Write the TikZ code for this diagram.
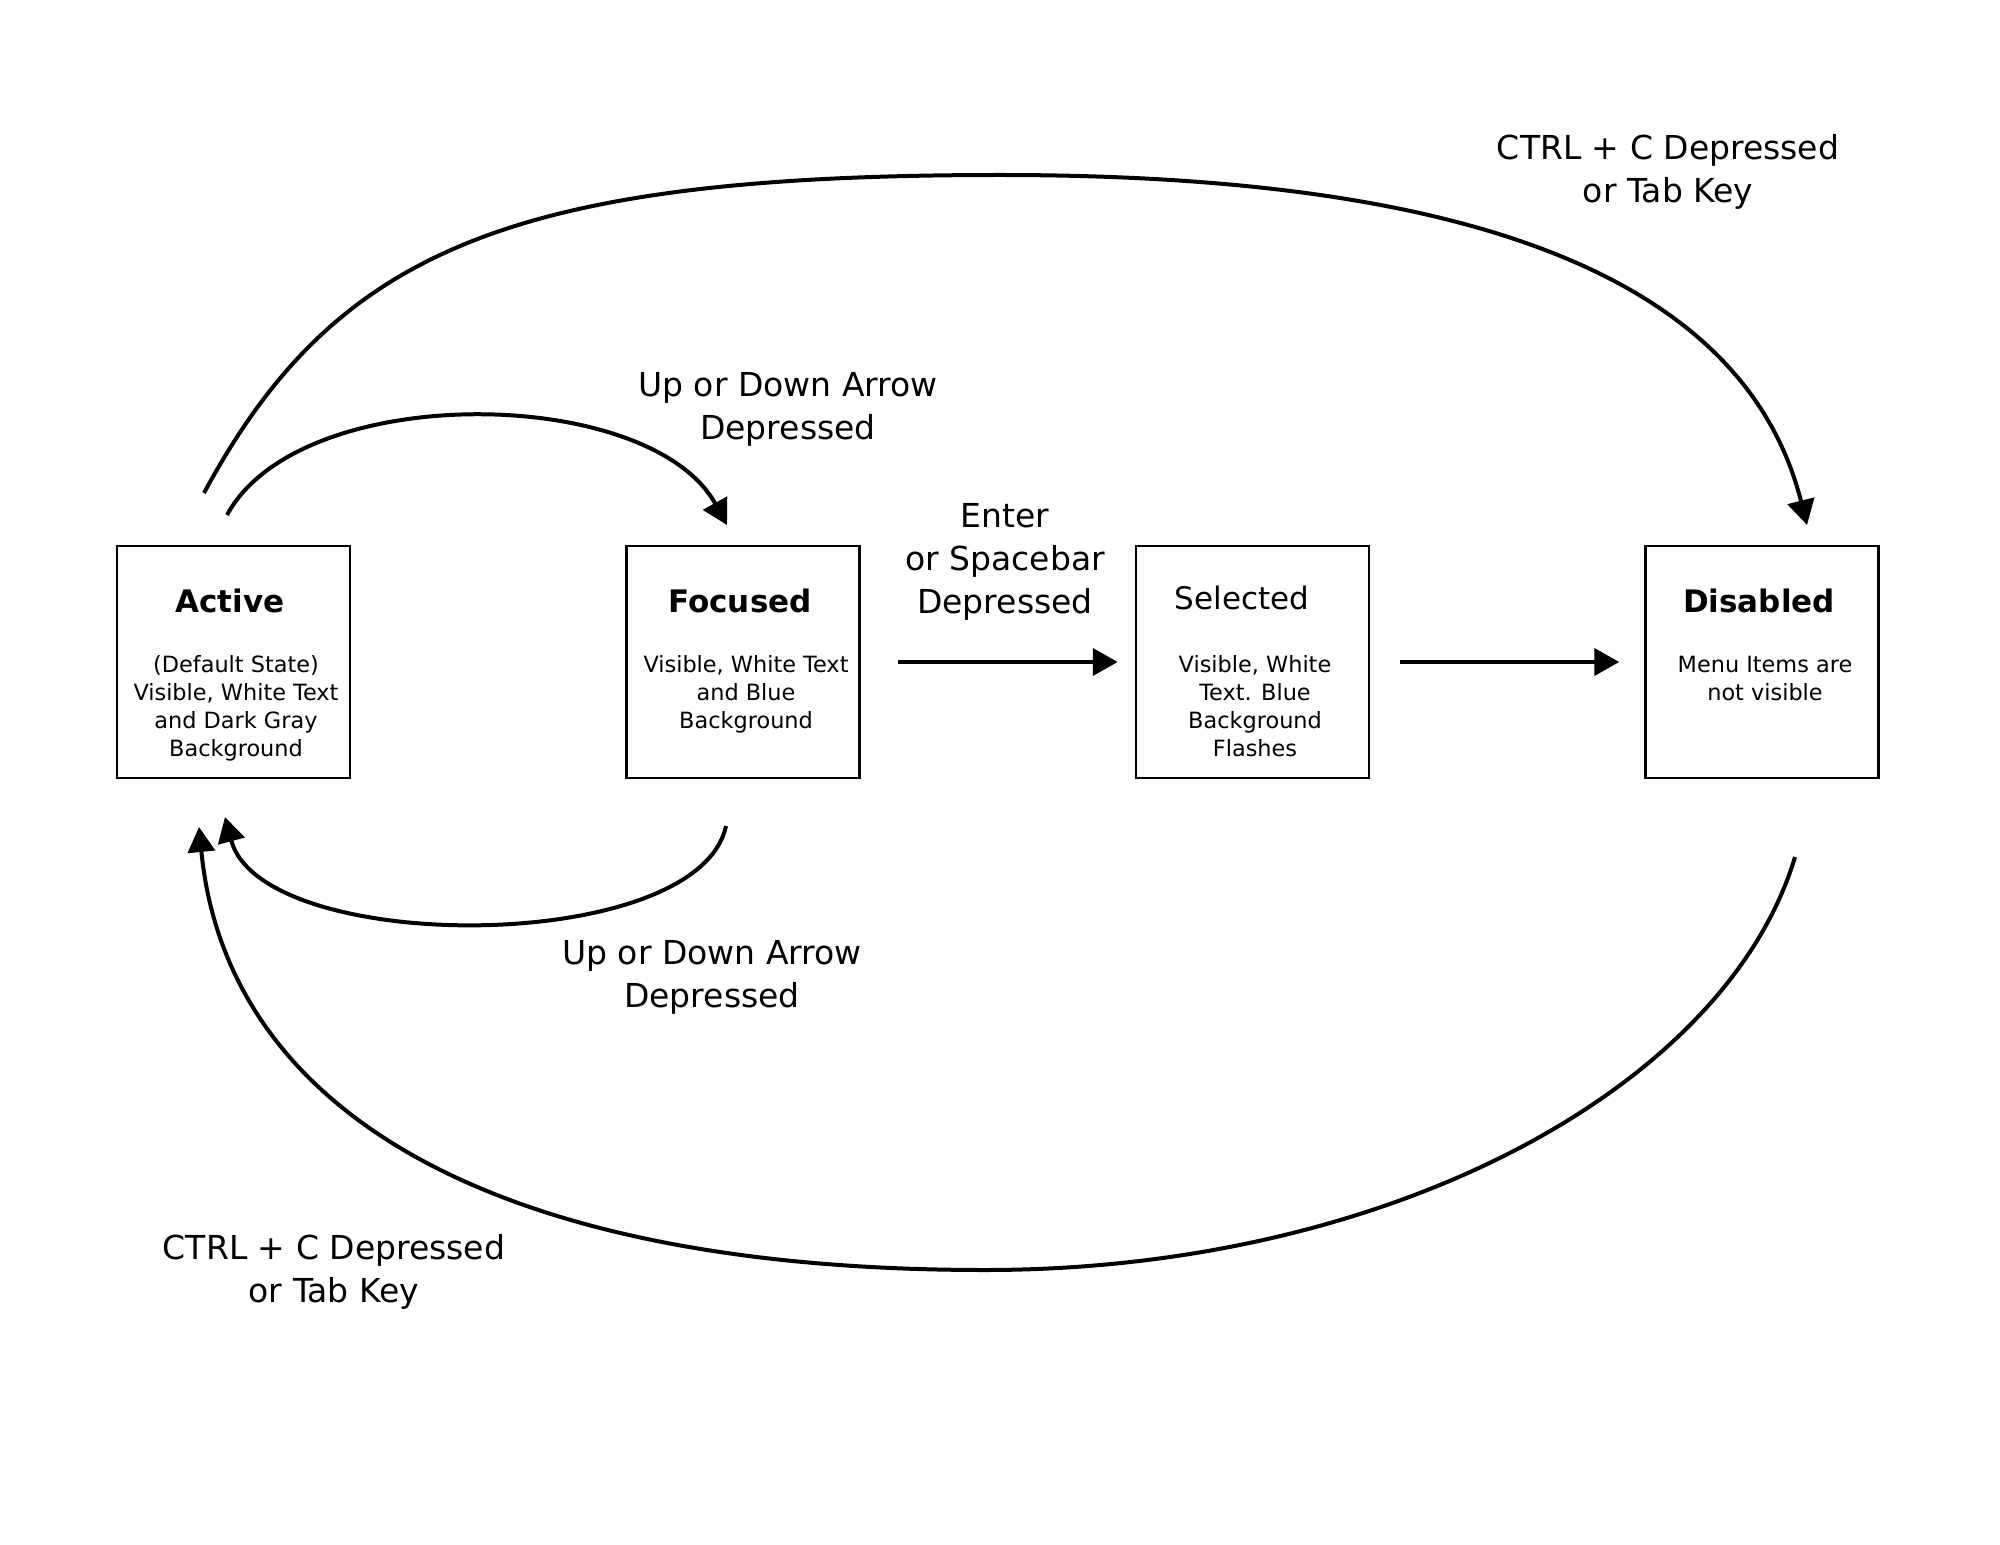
\documentclass[tikz,border=0pt]{standalone}
\usepackage{fontspec}
\setmainfont{DejaVu Sans}
\usetikzlibrary{arrows.meta}
\begin{document}
\begin{tikzpicture}[x=0.5pt,y=-0.5pt,
  statebox/.style={draw, line width=1.25pt, minimum width=116.5pt, minimum height=116pt, inner sep=0pt},
  title/.style={inner sep=0pt, font=\fontsize{15.5}{19}\selectfont},
  body/.style={inner sep=0pt, align=center, font=\fontsize{11.2}{14}\selectfont},
  lbl/.style={inner sep=0pt, align=center, font=\fontsize{16.5}{21.5}\selectfont},
  trans/.style={line width=2pt, -{Triangle[length=12.5pt,width=13.5pt]}},
]
\useasboundingbox (0,0) rectangle (2000,1545);
\fill[white] (0,0) rectangle (2000,1545);

% states
\node[statebox] (active)   at (233.5,662) {};
\node[statebox] (focused)  at (743,662)   {};
\node[statebox] (selected) at (1252.5,662) {};
\node[statebox] (disabled) at (1762,662)  {};

\node[title] (activeT) at (230,601) {\textbf{Active}};
\node[body]  (activeB) at (236,708) {(Default State)\\Visible, White Text\\and Dark Gray\\Background};
\node[title] (focusedT) at (740,601) {\textbf{Focused}};
\node[body]  (focusedB) at (746,694) {Visible, White Text\\and Blue\\Background};
\node[title] (selectedT) at (1242,598) {Selected};
\node[body]  (selectedB) at (1255,706) {Visible, White\\Text. Blue\\Background\\Flashes};
\node[title] (disabledT) at (1759,601) {\textbf{Disabled}};
\node[body]  (disabledB) at (1765,678) {Menu Items are\\not visible};

% transition labels
\node[lbl] (lblTop)   at (1668,172) {CTRL + C Depressed\\or Tab Key};
\node[lbl] (lblUp)    at (788,409)  {Up or Down Arrow\\Depressed};
\node[lbl] (lblEnter) at (1005,562) {Enter\\or Spacebar\\Depressed};
\node[lbl] (lblDown)  at (712,977)  {Up or Down Arrow\\Depressed};
\node[lbl] (lblBot)   at (334,1272) {CTRL + C Depressed\\or Tab Key};

% free ends of the curved transitions
\coordinate (aTopS) at (204,493);
\coordinate (aTopE) at (1807,525);
\coordinate (aUpS)  at (227,515);
\coordinate (aUpE)  at (727,525);
\coordinate (aDnS)  at (726,826);
\coordinate (aDnE)  at (225,817);
\coordinate (aBotS) at (1795,857);
\coordinate (aBotE) at (199,827);

% transitions
\draw[trans] (aTopS) .. controls (335,250) and (511,175) .. (1000,175)
             .. controls (1379,175) and (1735,240) .. (aTopE);
\draw[trans] (aUpS) .. controls (300,380) and (650,385) .. (aUpE);
\draw[trans] (aDnS) .. controls (698,956) and (262,956) .. (aDnE);
\draw[trans] (aBotS) .. controls (1726,1087) and (1390,1270) .. (985,1270)
             .. controls (465,1270) and (225,1095) .. (aBotE);
\draw[trans, shorten <=18.5pt, shorten >=8.5pt] (focused.east) -- (selected.west);
\draw[trans, shorten <=15pt, shorten >=12.5pt] (selected.east) -- (disabled.west);
\end{tikzpicture}
\end{document}
